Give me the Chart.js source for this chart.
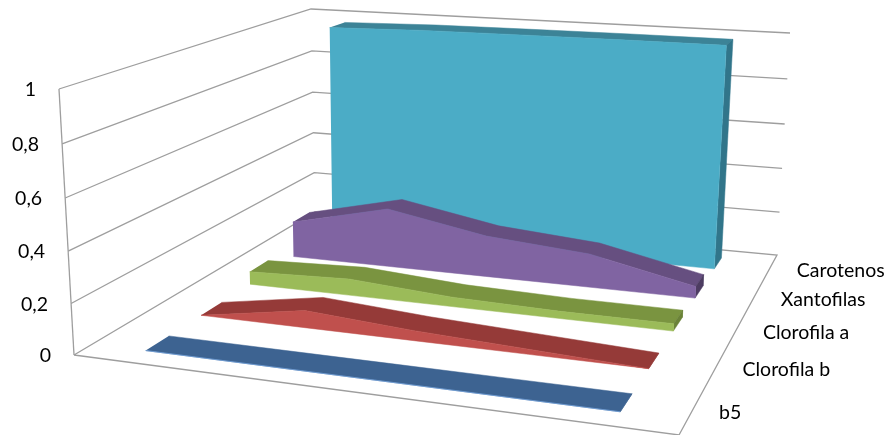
<!DOCTYPE html>
<html>
<head>
<meta charset="utf-8">
<style>
  html, body { margin: 0; padding: 0; background: #fff; }
  canvas { display: block; }
</style>
<script src="https://cdn.jsdelivr.net/npm/chart.js@4/dist/chart.umd.min.js"></script>
</head>
<body>
<canvas id="chart" width="890" height="435"></canvas>
<script>
// values, front series first
const seriesNames = ['b5', 'Clorofila b', 'Clorofila a', 'Xantofilas', 'Carotenos'];
const b5 = [0, 0, 0, 0, 0];
const clorofilaB = [0, 0.07, 0.04, 0.02, 0];
const clorofilaA = [0.055, 0.07, 0.04, 0.03, 0.03];
const xantofilas = [0.16, 0.26, 0.18, 0.145, 0.05];
const carotenos = [0.965, 0.975, 0.978, 0.98, 0.98];
const valueTicks = [0, 0.2, 0.4, 0.6, 0.8, 1];
const valueLabels = ['0', '0,2', '0,4', '0,6', '0,8', '1'];

const frontColors = ['#6f9fd8', '#c0504d', '#9bbb59', '#8064a2', '#4bacc6'];
const topColors = ['#3d6391', '#953a38', '#7a9440', '#664f80', '#3c8397'];
const sideColors = ['#3d6391', '#953a38', '#6a8238', '#4d3c62', '#31758a'];
const gridColor = '#9e9e9e';

// corners of the box on screen: front-left, front-right, back-right, back-left
const floorQuad = [[74, 355], [679, 435], [777, 255], [315, 212]];
const topQuad = [[59, 89], [701, 134], [790, 33], [311, 9]];

function makeHomography(q) {
    const [p0, p1, p2, p3] = q;
    const dx1 = p1[0] - p2[0], dx2 = p3[0] - p2[0], sx = p0[0] - p1[0] + p2[0] - p3[0];
    const dy1 = p1[1] - p2[1], dy2 = p3[1] - p2[1], sy = p0[1] - p1[1] + p2[1] - p3[1];
    const den = dx1 * dy2 - dx2 * dy1;
    const g = (sx * dy2 - dx2 * sy) / den;
    const h = (dx1 * sy - sx * dy1) / den;
    const a = p1[0] - p0[0] + g * p1[0], b = p3[0] - p0[0] + h * p3[0];
    const d = p1[1] - p0[1] + g * p1[1], e = p3[1] - p0[1] + h * p3[1];
    return (u, v) => {
        const w = g * u + h * v + 1;
        return [(a * u + b * v + p0[0]) / w, (d * u + e * v + p0[1]) / w];
    };
}
const floorAt = makeHomography(floorQuad);
const topAt = makeHomography(topQuad);

// u across the categories, d into the depth, v the value
function project(u, d, v) {
    const f = floorAt(u, d), t = topAt(u, d);
    const k = v * 0.96 / (v * 0.96 + 1 - v); // the top of the box is a bit nearer than the floor
    return { x: f[0] + (t[0] - f[0]) * k, y: f[1] + (t[1] - f[1]) * k };
}

function polygon(points, color) {
    return {
        data: points, showLine: true, fill: 'shape', backgroundColor: color,
        borderColor: color, borderWidth: 0.5, pointRadius: 0, tension: 0, clip: false
    };
}
function line(points, width) {
    return {
        data: points, showLine: true, fill: false, borderColor: gridColor,
        borderWidth: width || 1.3, pointRadius: 0, tension: 0, clip: false
    };
}

const datasets = [];
// walls
valueTicks.forEach(v => {
    if (v > 0) {
        datasets.push(line([project(0, 0, v), project(0, 1, v), project(1, 1, v)]));
    }
});
datasets.push(line([project(0, 0, 1), project(0, 0, 0)]));
datasets.push(line([project(0, 0, 0), project(1, 0, 0), project(1, 1, 0), project(0, 1, 0), project(0, 0, 0)]));

// ribbons, back to front
const allSeries = [b5, clorofilaB, clorofilaA, xantofilas, carotenos];
const catU = i => (i + 0.5) / 5;
const ribbonDepth = 0.08;
for (let s = allSeries.length - 1; s >= 0; s--) {
    const vals = allSeries[s];
    const d0 = (s + 0.5) / 5 - ribbonDepth / 2;
    const d1 = d0 + ribbonDepth;
    const last = vals.length - 1;
    // top surface
    const topFace = vals.map((v, i) => project(catU(i), d0, v))
        .concat(vals.map((v, i) => project(catU(i), d1, v)).reverse());
    datasets.push(polygon(topFace, topColors[s]));
    // right end
    datasets.push(polygon([project(catU(last), d0, vals[last]), project(catU(last), d1, vals[last]),
        project(catU(last), d1, 0), project(catU(last), d0, 0)], sideColors[s]));
    // front face
    const frontFace = vals.map((v, i) => project(catU(i), d0, v))
        .concat(vals.map((v, i) => project(catU(i), d0, 0)).reverse());
    datasets.push(polygon(frontFace, frontColors[s]));
}
// Chart.js paints the first dataset last
datasets.reverse();

const axisText = {
    id: 'axisText',
    afterDatasetsDraw(chart) {
        const { ctx, scales } = chart;
        ctx.save();
        ctx.fillStyle = '#000';
        ctx.font = '19.5px Lato, "Open Sans", sans-serif';
        ctx.textBaseline = 'middle';
        ctx.textAlign = 'right';
        valueTicks.forEach((v, i) => {
            const p = project(0, 0, v);
            ctx.fillText(valueLabels[i], scales.x.getPixelForValue(p.x) - 23, scales.y.getPixelForValue(p.y) + 1);
        });
        ctx.textAlign = 'left';
        seriesNames.forEach((name, s) => {
            const p = project(1, (s + 0.5) / 5, 0);
            ctx.fillText(name, scales.x.getPixelForValue(p.x) + 27, scales.y.getPixelForValue(p.y) + 2);
        });
        ctx.restore();
    }
};

new Chart(document.getElementById('chart').getContext('2d'), {
    type: 'scatter',
    data: { datasets },
    options: {
        responsive: false,
        animation: false,
        layout: { padding: 0 },
        plugins: { legend: { display: false }, tooltip: { enabled: false } },
        scales: {
            x: { type: 'linear', display: false, min: 0, max: 890 },
            y: { type: 'linear', display: false, min: 0, max: 435, reverse: true }
        }
    },
    plugins: [axisText]
});
</script>
</body>
</html>
